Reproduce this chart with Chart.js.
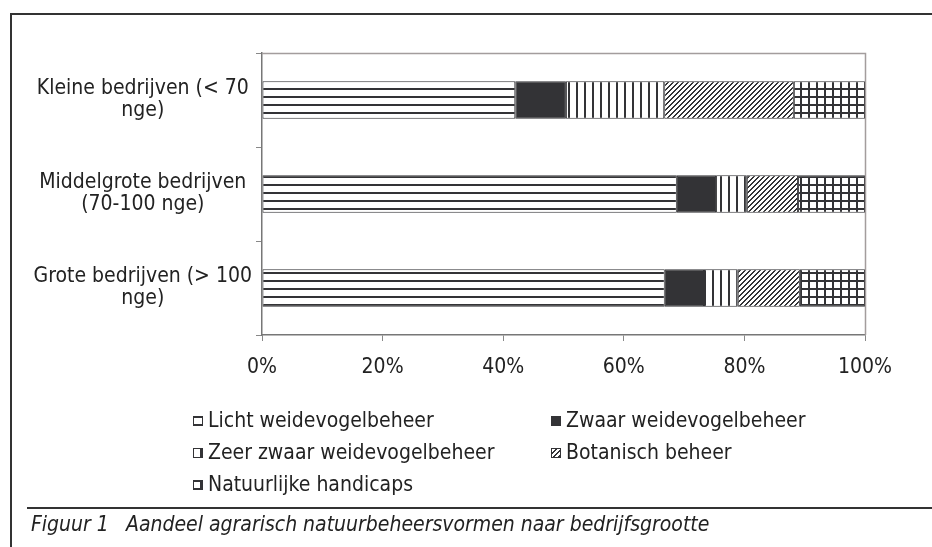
<!DOCTYPE html>
<html>
<head>
<meta charset="utf-8">
<script src="https://cdn.jsdelivr.net/npm/chart.js@4.4.0/dist/chart.umd.min.js"></script>
<style>
html,body{margin:0;padding:0;background:#fff}
#wrap{width:932px;height:547px;position:relative}
</style>
</head>
<body>
<div id="wrap"><canvas id="c" width="932" height="547"></canvas></div>
<script>
// data (percentages per farm size class)
var categories=[['Kleine bedrijven (< 70','nge)'],['Middelgrote bedrijven','(70-100 nge)'],['Grote bedrijven (> 100','nge)']];
var seriesNames=['Licht weidevogelbeheer','Zwaar weidevogelbeheer','Zeer zwaar weidevogelbeheer','Botanisch beheer','Natuurlijke handicaps'];
var licht=[42.0,68.8,66.8];
var zwaar=[8.4,6.5,6.5];
var zeerZwaar=[16.3,5.1,5.6];
var botanisch=[21.5,8.5,10.3];
var handicaps=[11.8,11.1,10.8];
var xTicks=[0,20,40,60,80,100];
var captionNr='Figuur 1';
var captionText='Aandeel agrarisch natuurbeheersvormen naar bedrijfsgrootte';

var dark='#333336';
var FONT="'Liberation Sans Narrow','DejaVu Sans Condensed',sans-serif";

//makes a small tile and returns a canvas pattern
function makePattern(w,h,draw){
  var t=document.createElement('canvas');
  t.width=w;t.height=h;
  var g=t.getContext('2d');
  g.fillStyle='#fff';g.fillRect(0,0,w,h);
  g.fillStyle=dark;
  draw(g);
  return document.getElementById('c').getContext('2d').createPattern(t,'repeat');
}
var pHoriz=makePattern(8,8,function(g){g.fillRect(0,0,8,2);});
var pVert=makePattern(8,8,function(g){g.fillRect(0,0,2,8);});
var pDiag=makePattern(5,5,function(g){
  for(var i=0;i<5;i++){g.fillRect(i,4-i,1,1);g.fillRect((i+1)%5,4-i,1,1);}
});
var pGrid=makePattern(8,8,function(g){g.fillRect(0,0,8,2);g.fillRect(0,0,2,8);});

var fills=[pHoriz,dark,pVert,pDiag,pGrid];
var values=[licht,zwaar,zeerZwaar,botanisch,handicaps];
var datasets=[];
for(var i=0;i<seriesNames.length;i++){
  datasets.push({
    label:seriesNames[i],
    data:values[i],
    backgroundColor:fills[i],
    borderColor:dark,
    borderWidth:1,
    borderSkipped:false,
    barPercentage:0.4,
    categoryPercentage:1
  });
}

//frame, legend and caption
var decor={
  id:'decor',
  afterDraw:function(chart){
    var ctx=chart.ctx,a=chart.chartArea;
    ctx.save();
    // plot frame top/right
    ctx.strokeStyle='#a39d9d';ctx.lineWidth=1.5;
    ctx.beginPath();
    ctx.moveTo(a.left,a.top+0.5);ctx.lineTo(a.right+0.5,a.top+0.5);ctx.lineTo(a.right+0.5,a.bottom);
    ctx.stroke();
    // outer frame
    ctx.strokeStyle='#333';ctx.lineWidth=2;
    ctx.beginPath();
    ctx.moveTo(11,547);ctx.lineTo(11,14);ctx.lineTo(932,14);
    ctx.stroke();
    ctx.beginPath();
    ctx.moveTo(27,508);ctx.lineTo(932,508);
    ctx.stroke();
    // legend in two columns
    var cols=[193,551],rows=[421,453,485];
    ctx.font='21px '+FONT;
    ctx.textBaseline='middle';ctx.textAlign='left';
    chart.data.datasets.forEach(function(ds,k){
      var x=cols[k%2],y=rows[Math.floor(k/2)];
      ctx.fillStyle=ds.backgroundColor;
      ctx.fillRect(x,y-5,10,10);
      ctx.strokeStyle=dark;ctx.lineWidth=1;
      ctx.strokeRect(x+0.5,y-4.5,9,9);
      ctx.fillStyle='#222';
      ctx.fillText(ds.label,x+15,y+1);
    });
    // caption
    ctx.font='italic 21px '+FONT;
    ctx.fillText(captionNr,31,526);
    ctx.fillText(captionText,126,526);
    ctx.restore();
  }
};

Chart.defaults.font.family=FONT;
Chart.defaults.font.size=21;
Chart.defaults.color='#222';

new Chart(document.getElementById('c'),{
  type:'bar',
  data:{labels:categories,datasets:datasets},
  options:{
    indexAxis:'y',
    responsive:false,
    animation:false,
    devicePixelRatio:1,
    layout:{padding:{left:0,top:53,right:67,bottom:0}},
    plugins:{legend:{display:false},tooltip:{enabled:false}},
    scales:{
      x:{
        stacked:true,min:xTicks[0],max:xTicks[xTicks.length-1],
        afterBuildTicks:function(s){s.ticks=xTicks.map(function(v){return {value:v};});},
        ticks:{callback:function(v){return v+'%';},padding:14,maxRotation:0,font:{family:FONT,size:21,lineHeight:1.2}},
        grid:{drawOnChartArea:false,tickLength:6,color:'#888'},
        border:{color:'#777',width:1.5},
        afterFit:function(s){s.height=212;}
      },
      y:{
        stacked:true,
        ticks:{crossAlign:'center',padding:4,font:{family:FONT,size:21,lineHeight:1.05}},
        grid:{drawOnChartArea:false,tickLength:6,color:'#888',offset:true},
        border:{color:'#777',width:1.5},
        afterFit:function(s){s.width=262;}
      }
    }
  },
  plugins:[decor]
});
</script>
</body>
</html>
